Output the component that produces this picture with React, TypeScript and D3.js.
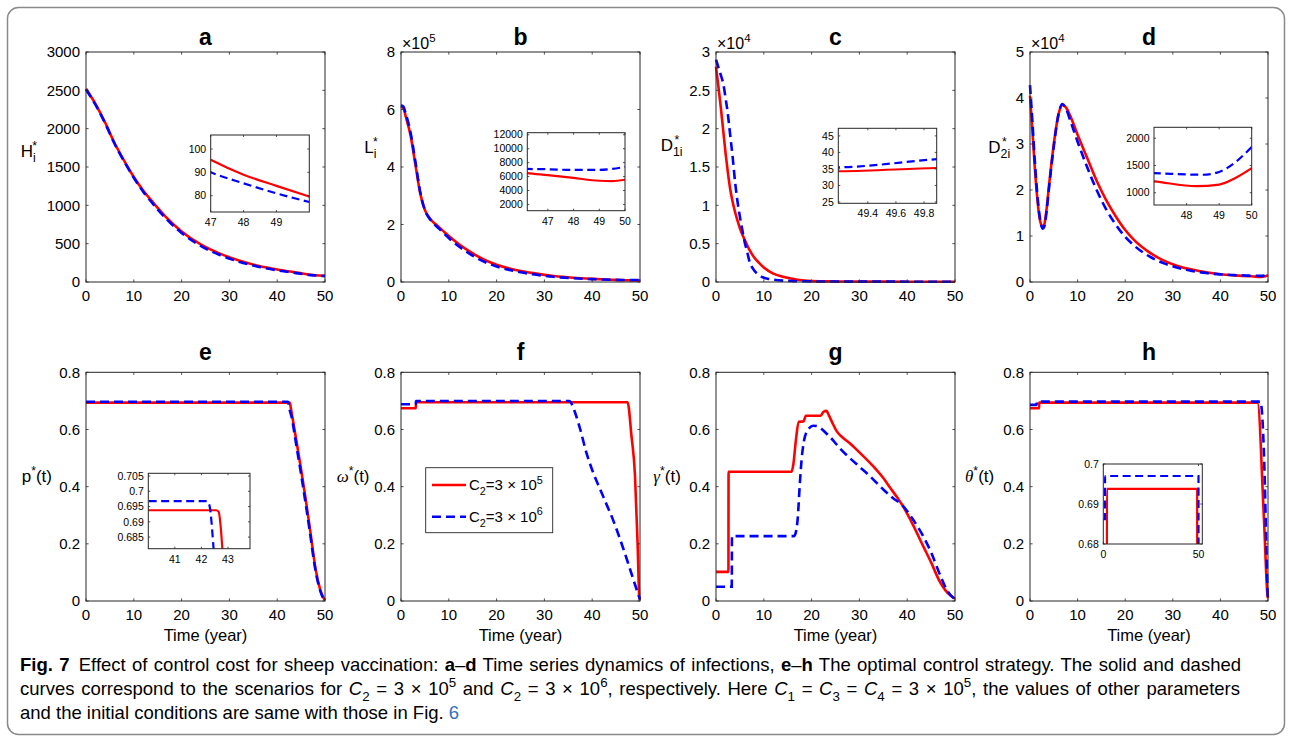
import React, { useLayoutEffect, useRef, useState } from 'react'
import * as d3 from 'd3'

type Pt = [number, number]
type Seg = { t: string; s?: 'sub' | 'sup'; i?: boolean; b?: boolean; c?: string; dx?: number; f?: string }

// ---- data ----
const xTicks = [0, 10, 20, 30, 40, 50]
const aTicks = [0, 500, 1000, 1500, 2000, 2500, 3000]
const bTicks = [0, 2e5, 4e5, 6e5, 8e5]
const cTicks = [0, 5000, 10000, 15000, 20000, 25000, 30000]
const dTicks = [0, 10000, 20000, 30000, 40000, 50000]
const ctrlTicks = [0, 0.2, 0.4, 0.6, 0.8]

const aRed: Pt[] = [[0, 2520], [2, 2320], [4, 2080], [6, 1810], [8, 1580], [10, 1370], [12, 1190], [14, 1040], [17, 830], [20, 660], [24, 490], [28, 370], [32, 280], [36, 212], [40, 162], [44, 124], [47, 95.4], [48, 89], [49, 84.2], [50, 79.6]]
const aBlue: Pt[] = [[0, 2510], [2, 2310], [4, 2070], [6, 1800], [8, 1570], [10, 1360], [12, 1175], [14, 1020], [17, 810], [20, 640], [24, 470], [28, 352], [32, 265], [36, 200], [40, 152], [44, 116], [47, 90], [48, 85.3], [49, 81], [50, 77.3]]

const bRed: Pt[] = [[0, 610000], [0.5, 605000], [1, 575000], [2, 510000], [3, 410000], [4, 310000], [5, 250000], [6, 222000], [8, 190000], [10, 160000], [12, 133000], [14, 110000], [16, 90000], [18, 73000], [20, 60000], [24, 42000], [28, 30000], [32, 21000], [36, 15000], [40, 11000], [44, 8000], [46.2, 6500], [47, 6200], [48, 5800], [49, 5400], [49.5, 5350], [50, 5550]]
const bBlue: Pt[] = [[0, 615000], [0.5, 610000], [1, 585000], [2, 520000], [3, 420000], [4, 315000], [5, 250000], [6, 220000], [8, 185000], [10, 153000], [12, 125000], [14, 102000], [16, 82000], [18, 66000], [20, 54000], [24, 37000], [28, 26000], [32, 18000], [36, 13000], [40, 10000], [44, 7800], [46.2, 7100], [47, 7050], [48, 6950], [49, 6950], [49.5, 7100], [50, 7400]]

const cRed: Pt[] = [[0, 28100], [0.5, 25500], [1, 22800], [1.5, 19800], [2, 16800], [2.5, 14200], [3, 12000], [3.5, 10400], [4, 9100], [4.5, 8000], [5, 7000], [6, 5500], [7, 4200], [8, 3200], [9, 2500], [10, 1900], [12, 1100], [14, 700], [16, 420], [18, 220], [20, 120], [25, 70], [30, 50], [40, 40], [46, 35], [48.5, 34.1], [49.2, 34.3], [49.9, 35.3], [50, 35.4]]
const cBlue: Pt[] = [[0, 29000], [0.5, 28000], [1, 27000], [1.5, 25900], [2, 24000], [2.5, 21800], [3, 19000], [3.5, 16200], [4, 13000], [4.5, 10500], [5, 8500], [5.5, 6800], [6, 5200], [6.5, 4000], [7, 2700], [8, 1500], [9, 900], [10, 550], [11, 400], [12, 300], [14, 180], [16, 120], [20, 80], [25, 60], [30, 50], [40, 42], [46, 36], [48.5, 35.2], [49.2, 35.5], [49.9, 38], [50, 38.3]]

const dRed: Pt[] = [[0, 40500], [0.5, 33000], [1, 25000], [1.5, 18500], [2, 14000], [2.6, 12000], [3, 12500], [3.5, 16000], [4, 21000], [5, 30000], [6, 36500], [6.8, 38500], [7.5, 38000], [8.5, 36000], [10, 32000], [12, 27000], [14, 22000], [16, 17800], [18, 14300], [20, 11300], [22, 9000], [25, 6500], [28, 4700], [31, 3500], [34, 2700], [37, 2100], [40, 1700], [43, 1450], [46, 1260], [47, 1210], [48.3, 1120], [49, 1150], [49.5, 1270], [50, 1450]]
const dBlue: Pt[] = [[0, 42800], [0.5, 35000], [1, 26500], [1.5, 19500], [2, 14500], [2.7, 11600], [3, 12000], [3.5, 15500], [4, 20500], [5, 29500], [6, 36500], [6.8, 38700], [7.5, 37800], [8.5, 35000], [10, 30500], [12, 25000], [14, 20000], [16, 15800], [18, 12500], [20, 9800], [22, 7800], [25, 5600], [28, 4100], [31, 3100], [34, 2400], [37, 1950], [40, 1650], [43, 1500], [46, 1380], [47, 1360], [48.5, 1330], [49, 1380], [49.5, 1560], [50, 1840]]

const eRed: Pt[] = [[0, 0.6938], [42.55, 0.6938], [42.65, 0.6933], [42.72, 0.689], [42.8, 0.68], [43, 0.661], [44, 0.562], [45, 0.46], [46, 0.352], [47, 0.235], [47.6, 0.16], [48, 0.115], [49, 0.04], [49.5, 0.017], [50, 0.003]]
const eBlue: Pt[] = [[0, 0.6968], [42.2, 0.6968], [42.3, 0.6955], [42.38, 0.69], [42.46, 0.681], [43, 0.645], [44, 0.545], [45, 0.443], [46, 0.336], [47, 0.222], [47.6, 0.15], [48, 0.108], [49, 0.036], [49.5, 0.014], [50, 0.002]]

const fRed: Pt[] = [[0, 0.674], [3.1, 0.674], [3.13, 0.695], [47.4, 0.695], [48.2, 0.58], [48.95, 0.44], [49.5, 0.2], [49.85, 0.015], [50, 0.005]]
const fBlue: Pt[] = [[0, 0.688], [3.1, 0.688], [3.13, 0.6995], [35.3, 0.6995], [35.8, 0.686], [36.5, 0.655], [37.5, 0.6], [38.8, 0.518], [40, 0.458], [41.5, 0.397], [43, 0.338], [44.4, 0.282], [46, 0.208], [47.5, 0.133], [49, 0.055], [49.9, 0.01], [50, 0.005]]

const gRed: Pt[] = [[0, 0.102], [2.6, 0.102], [2.63, 0.452], [15.8, 0.452], [16.2, 0.48], [16.7, 0.56], [17.3, 0.627], [18.3, 0.628], [18.8, 0.648], [21.9, 0.648], [22.5, 0.662], [23.1, 0.665], [23.6, 0.65], [24.3, 0.625], [25.2, 0.595], [26.5, 0.572], [28, 0.552], [30, 0.52], [32.8, 0.473], [35, 0.43], [36.4, 0.397], [38, 0.36], [39, 0.335], [41, 0.273], [43.4, 0.19], [45, 0.135], [46.9, 0.065], [48, 0.037], [49, 0.02], [50, 0.008]]
const gBlue: Pt[] = [[0, 0.05], [3.3, 0.05], [3.33, 0.227], [16.3, 0.227], [16.7, 0.24], [17.1, 0.29], [17.5, 0.4], [17.9, 0.493], [18.4, 0.56], [18.9, 0.59], [19.5, 0.605], [20.3, 0.613], [21, 0.612], [22, 0.603], [23.1, 0.586], [24.5, 0.562], [25.9, 0.534], [28, 0.5], [30, 0.47], [32, 0.44], [35, 0.39], [37, 0.36], [39, 0.335], [41, 0.29], [43.4, 0.225], [45, 0.17], [46.9, 0.09], [48, 0.048], [49, 0.022], [49.7, 0.01], [50, 0.005]]

const hRed: Pt[] = [[0, 0.674], [1.9, 0.674], [1.93, 0.694], [47.8, 0.694], [49.16, 0.283], [49.93, 0.015], [50, 0.01]]
const hBlue: Pt[] = [[0, 0.686], [1.4, 0.686], [1.43, 0.6975], [48.4, 0.6975], [49.2, 0.49], [49.7, 0.16], [49.95, 0.02], [50, 0.01]]
const hInsetRed: Pt[] = [[0, 0.672], [1.9, 0.672], [1.92, 0.6938], [49.3, 0.6938], [49.32, 0.66]]
const hInsetBlue: Pt[] = [[0, 0.6862], [0.9, 0.6862], [0.92, 0.697], [50, 0.697], [50.02, 0.66]]

const legendLabels: Seg[][] = [
  [{ t: 'C' }, { t: '2', s: 'sub' }, { t: '=3 × 10' }, { t: '5', s: 'sup' }],
  [{ t: 'C' }, { t: '2', s: 'sub' }, { t: '=3 × 10' }, { t: '6', s: 'sup' }],
]

// ---- layout ----
const FONT = "'Liberation Sans', Arial, Helvetica, sans-serif"
const MATH = "'Liberation Serif', 'DejaVu Serif', serif"
const CAP = "'Liberation Sans', Arial, sans-serif"
const RED = '#ff0000'
const BLUE = '#0000ff'
const AX = '#262626'
const COL_X = [86, 401, 716, 1030]
const COL_W = [239, 239, 239, 238]
const ROW_Y = [52, 372.3]
const ROW_H = [230, 228.7]
const TITLE_Y = [45, 360]
const CAP_SIZE = 18.5

const num = (v: number) => String(+v.toFixed(4))

// text with sub/superscripts
function Rich({ segs, size, x, y, anchor, family, weight, textLength, wordSpacing, tref }: any) {
  let shift = 0
  return (
    <text ref={tref} x={x} y={y} fontSize={size} fontFamily={family || FONT} fontWeight={weight} textAnchor={anchor}
      textLength={textLength} lengthAdjust={textLength ? 'spacingAndGlyphs' : undefined}
      wordSpacing={wordSpacing} fill="#000">
      {segs.map((sg: Seg, k: number) => {
        const target = sg.s === 'sub' ? size * 0.32 : sg.s === 'sup' ? -size * 0.42 : 0
        const dy = target - shift
        shift = target
        return (
          <tspan key={k} dy={dy || undefined} dx={sg.dx} fontSize={sg.s ? size * 0.72 : size}
            fontStyle={sg.i ? 'italic' : undefined} fontWeight={sg.b ? 'bold' : undefined}
            fontFamily={sg.f} fill={sg.c}>{sg.t}</tspan>
        )
      })}
    </text>
  )
}

interface InsetSpec {
  box: [number, number, number, number]
  xDomain: [number, number]
  yDomain: [number, number]
  xTicks: number[]
  yTicks: number[]
  red: Pt[]
  blue: Pt[]
}

interface PanelSpec {
  key: string
  col: number
  row: number
  yDomain: [number, number]
  yTicks: number[]
  yFmt: (v: number) => string
  exp?: string
  label: Seg[]
  labelX: number
  labelY: number
  red: Pt[]
  blue: Pt[]
  inset?: InsetSpec
  legend?: boolean
}

const panels: PanelSpec[] = [
  {
    key: 'a', col: 0, row: 0, yDomain: [0, 3000], yTicks: aTicks, yFmt: num,
    label: [{ t: 'H' }, { t: 'i', s: 'sub' }, { t: '*', s: 'sup', dx: -3.5 }], labelX: 20.7, labelY: 157,
    red: aRed, blue: aBlue,
    inset: { box: [210.7, 135, 309.3, 212], xDomain: [47, 50], yDomain: [73, 106], xTicks: [47, 48, 49], yTicks: [80, 90, 100], red: aRed, blue: aBlue },
  },
  {
    key: 'b', col: 1, row: 0, yDomain: [0, 8e5], yTicks: bTicks, yFmt: v => num(v / 1e5), exp: '5',
    label: [{ t: 'L' }, { t: 'i', s: 'sub' }, { t: '*', s: 'sup', dx: -3.5 }], labelX: 364.3, labelY: 153,
    red: bRed, blue: bBlue,
    inset: { box: [527.3, 132.7, 625, 210.7], xDomain: [46.2, 50], yDomain: [1100, 12300], xTicks: [47, 48, 49, 50], yTicks: [2000, 4000, 6000, 8000, 10000, 12000], red: bRed, blue: bBlue },
  },
  {
    key: 'c', col: 2, row: 0, yDomain: [0, 30000], yTicks: cTicks, yFmt: v => num(v / 1e4), exp: '4',
    label: [{ t: 'D' }, { t: '1i', s: 'sub' }, { t: '*', s: 'sup', dx: -8 }], labelX: 660.7, labelY: 151,
    red: cRed, blue: cBlue,
    inset: { box: [838.3, 128.3, 936.7, 203.3], xDomain: [49.19, 49.89], yDomain: [24.6, 47.3], xTicks: [49.4, 49.6, 49.8], yTicks: [25, 30, 35, 40, 45], red: cRed, blue: cBlue },
  },
  {
    key: 'd', col: 3, row: 0, yDomain: [0, 50000], yTicks: dTicks, yFmt: v => num(v / 1e4), exp: '4',
    label: [{ t: 'D' }, { t: '2i', s: 'sub' }, { t: '*', s: 'sup', dx: -8 }], labelX: 988.3, labelY: 153,
    red: dRed, blue: dBlue,
    inset: { box: [1154, 127.3, 1251.7, 205], xDomain: [47, 50], yDomain: [775, 2200], xTicks: [48, 49, 50], yTicks: [1000, 1500, 2000], red: dRed, blue: dBlue },
  },
  {
    key: 'e', col: 0, row: 1, yDomain: [0, 0.8], yTicks: ctrlTicks, yFmt: num,
    label: [{ t: 'p' }, { t: '*', s: 'sup' }, { t: '(t)' }], labelX: 21.7, labelY: 482,
    red: eRed, blue: eBlue,
    inset: { box: [148.3, 473.3, 250, 548.7], xDomain: [40, 43.83], yDomain: [0.6812, 0.7059], xTicks: [41, 42, 43], yTicks: [0.685, 0.69, 0.695, 0.7, 0.705], red: eRed, blue: eBlue },
  },
  {
    key: 'f', col: 1, row: 1, yDomain: [0, 0.8], yTicks: ctrlTicks, yFmt: num,
    label: [{ t: 'ω', i: true, f: MATH }, { t: '*', s: 'sup' }, { t: '(t)' }], labelX: 336.7, labelY: 482,
    red: fRed, blue: fBlue, legend: true,
  },
  {
    key: 'g', col: 2, row: 1, yDomain: [0, 0.8], yTicks: ctrlTicks, yFmt: num,
    label: [{ t: 'γ', i: true, f: MATH }, { t: '*', s: 'sup' }, { t: '(t)' }], labelX: 653.3, labelY: 482,
    red: gRed, blue: gBlue,
  },
  {
    key: 'h', col: 3, row: 1, yDomain: [0, 0.8], yTicks: ctrlTicks, yFmt: num,
    label: [{ t: 'θ', i: true, f: MATH }, { t: '*', s: 'sup' }, { t: '(t)' }], labelX: 965, labelY: 482,
    red: hRed, blue: hBlue,
    inset: { box: [1103.3, 464, 1202.3, 544], xDomain: [0, 52], yDomain: [0.68, 0.7], xTicks: [0, 50], yTicks: [0.68, 0.69, 0.7], red: hInsetRed, blue: hInsetBlue },
  },
]

const captionLines: { segs: Seg[]; w: number }[] = [
  {
    w: 1221,
    segs: [
      { t: 'Fig. 7', b: true }, { t: '\u2002Effect of control cost for sheep vaccination: ' }, { t: 'a', b: true }, { t: '–' }, { t: 'd', b: true },
      { t: ' Time series dynamics of infections, ' }, { t: 'e', b: true }, { t: '–' }, { t: 'h', b: true },
      { t: ' The optimal control strategy. The solid and dashed' },
    ],
  },
  {
    w: 1220,
    segs: [
      { t: 'curves correspond to the scenarios for ' }, { t: 'C', i: true }, { t: '2', s: 'sub' }, { t: ' = 3 × 10' }, { t: '5', s: 'sup' },
      { t: ' and ' }, { t: 'C', i: true }, { t: '2', s: 'sub' }, { t: ' = 3 × 10' }, { t: '6', s: 'sup' },
      { t: ', respectively. Here ' }, { t: 'C', i: true }, { t: '1', s: 'sub' }, { t: ' = ' }, { t: 'C', i: true }, { t: '3', s: 'sub' },
      { t: ' = ' }, { t: 'C', i: true }, { t: '4', s: 'sub' }, { t: ' = 3 × 10' }, { t: '5', s: 'sup' }, { t: ', the values of other parameters' },
    ],
  },
  {
    w: 0,
    segs: [{ t: 'and the initial conditions are same with those in Fig. ' }, { t: '6', c: '#2f6fc0' }],
  },
]

// justified caption line: widen word spacing, or squeeze if the text is too long
function CaptionLine({ segs, w, y }: { segs: Seg[]; w: number; y: number }) {
  const ref = useRef<SVGTextElement>(null)
  const [fit, setFit] = useState<{ ws?: number; tl?: number }>({})
  useLayoutEffect(() => {
    if (!w || !ref.current) return
    const natural = ref.current.getComputedTextLength()
    const spaces = segs.map(s => s.t).join('').split(' ').length - 1
    if (natural > w) setFit({ tl: w })
    else setFit({ ws: (w - natural) / spaces })
  }, [])
  return (
    <Rich tref={ref} segs={segs} size={CAP_SIZE} x={20} y={y} family={CAP} wordSpacing={fit.ws} textLength={fit.tl} />
  )
}

function Ticks({ x, y, xt, yt, len, xFmt, yFmt, fs, xOff, yOff }: any) {
  const [x0, x1] = x.range()
  const [y1, y0] = y.range()
  return (
    <g>
      {xt.map((t: number) => (
        <g key={'x' + t}>
          <line x1={x(t)} x2={x(t)} y1={y1} y2={y1 - len} stroke={AX} strokeWidth={0.8} />
          <line x1={x(t)} x2={x(t)} y1={y0} y2={y0 + len} stroke={AX} strokeWidth={0.8} />
          <text x={x(t)} y={y1 + xOff} fontSize={fs} fontFamily={FONT} textAnchor="middle" fill="#000">{xFmt(t)}</text>
        </g>
      ))}
      {yt.map((t: number) => (
        <g key={'y' + t}>
          <line x1={x0} x2={x0 + len} y1={y(t)} y2={y(t)} stroke={AX} strokeWidth={0.8} />
          <line x1={x1} x2={x1 - len} y1={y(t)} y2={y(t)} stroke={AX} strokeWidth={0.8} />
          <text x={x0 - yOff} y={y(t) + fs * 0.35} fontSize={fs} fontFamily={FONT} textAnchor="end" fill="#000">{yFmt(t)}</text>
        </g>
      ))}
      <rect x={x0} y={y0} width={x1 - x0} height={y1 - y0} fill="none" stroke={AX} strokeWidth={1} />
    </g>
  )
}

function Inset({ spec, id }: { spec: InsetSpec; id: string }) {
  const [x0, y0, x1, y1] = spec.box
  const x = d3.scaleLinear().domain(spec.xDomain).range([x0, x1])
  const y = d3.scaleLinear().domain(spec.yDomain).range([y1, y0])
  const line = d3.line<Pt>().x(d => x(d[0])).y(d => y(d[1])).curve(d3.curveMonotoneX)
  return (
    <g>
      <defs>
        <clipPath id={id}><rect x={x0} y={y0} width={x1 - x0} height={y1 - y0} /></clipPath>
      </defs>
      <rect x={x0} y={y0} width={x1 - x0} height={y1 - y0} fill="#fff" />
      <g clipPath={`url(#${id})`}>
        <path d={line(spec.red) || ''} fill="none" stroke={RED} strokeWidth={2.2} />
        <path d={line(spec.blue) || ''} fill="none" stroke={BLUE} strokeWidth={2.2} strokeDasharray="8,4.5" />
      </g>
      <Ticks x={x} y={y} xt={spec.xTicks} yt={spec.yTicks} len={2} xFmt={num} yFmt={num} fs={10.5} xOff={14} yOff={4.5} />
    </g>
  )
}

function Legend() {
  const lx = 425.7, ly = 467.7, lw = 127, lh = 65
  const rows = [485, 516.7]
  return (
    <g>
      <rect x={lx} y={ly} width={lw} height={lh} fill="#fff" stroke={AX} strokeWidth={0.9} />
      {legendLabels.map((segs, i) => (
        <g key={i}>
          <line x1={432} x2={466} y1={rows[i]} y2={rows[i]} stroke={i === 0 ? RED : BLUE} strokeWidth={2.6}
            strokeDasharray={i === 0 ? undefined : '9,5'} />
          <Rich segs={segs} size={15} x={469} y={rows[i] + 5} />
        </g>
      ))}
    </g>
  )
}

function Panel({ p }: { p: PanelSpec }) {
  const left = COL_X[p.col]
  const top = ROW_Y[p.row]
  const x = d3.scaleLinear().domain([0, 50]).range([left, left + COL_W[p.col]])
  const y = d3.scaleLinear().domain(p.yDomain).range([top + ROW_H[p.row], top])
  const line = d3.line<Pt>().x(d => x(d[0])).y(d => y(d[1])).curve(d3.curveMonotoneX)
  const cx = left + COL_W[p.col] / 2
  return (
    <g>
      <text x={cx} y={TITLE_Y[p.row]} fontSize={23} fontWeight="bold" fontFamily={FONT} textAnchor="middle">{p.key}</text>
      {p.exp && (
        <Rich segs={[{ t: '×' }, { t: '10' }, { t: p.exp, s: 'sup' }]} size={16} x={left + 1} y={top - 3} />
      )}
      <Rich segs={p.label} size={17} x={p.labelX} y={p.labelY} />
      <path d={line(p.red) || ''} fill="none" stroke={RED} strokeWidth={2.6} strokeLinejoin="round" />
      <path d={line(p.blue) || ''} fill="none" stroke={BLUE} strokeWidth={2.6} strokeDasharray="9,5" />
      <Ticks x={x} y={y} xt={xTicks} yt={p.yTicks} len={2.6} xFmt={num} yFmt={p.yFmt} fs={15} xOff={18.5} yOff={6} />
      {p.row === 1 && (
        <text x={cx} y={641} fontSize={16.5} fontFamily={FONT} textAnchor="middle">Time (year)</text>
      )}
      {p.inset && <Inset spec={p.inset} id={'clip-' + p.key} />}
      {p.legend && <Legend />}
    </g>
  )
}

export default function App() {
  return (
    <svg width={1291} height={742} style={{ position: 'absolute', left: 0, top: 0, background: '#fff' }}>
      <rect x={0} y={0} width={1291} height={742} fill="#fff" />
      <rect x={7.5} y={7.5} width={1277} height={727} rx={11} fill="none" stroke="#8a8a8a" strokeWidth={1.5} />
      {panels.map(p => <Panel key={p.key} p={p} />)}
      {captionLines.map((l, i) => (
        <CaptionLine key={i} segs={l.segs} w={l.w} y={671 + i * 24} />
      ))}
    </svg>
  )
}
